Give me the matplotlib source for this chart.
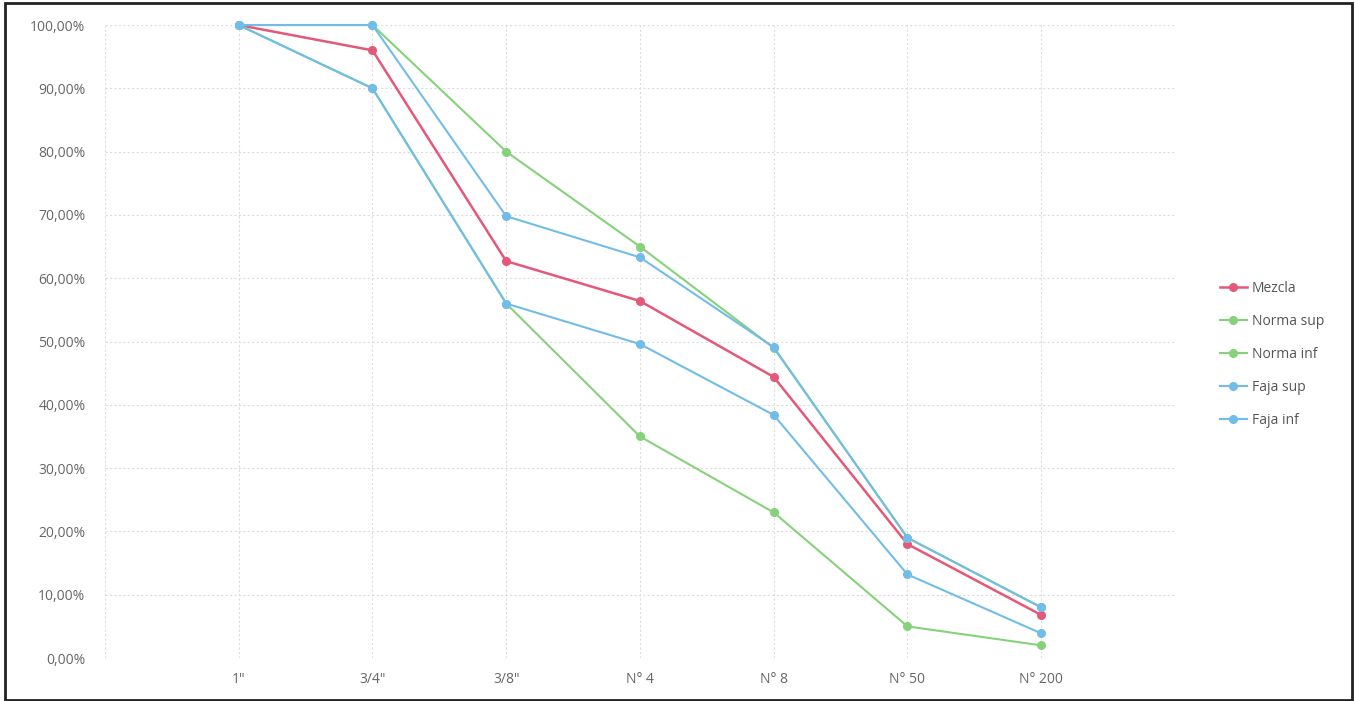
import matplotlib
matplotlib.use("Agg")
import matplotlib.pyplot as plt
from matplotlib.patches import Rectangle
from matplotlib.ticker import FuncFormatter

categories = ['1"', '3/4"', '3/8"', 'N° 4', 'N° 8', 'N° 50', 'N° 200']
mezcla = [100.0, 96.0, 62.7, 56.4, 44.4, 18.0, 6.8]
norma_sup = [100.0, 100.0, 80.0, 65.0, 49.0, 19.0, 8.0]
norma_inf = [100.0, 90.0, 56.0, 35.0, 23.0, 5.0, 2.0]
faja_sup = [100.0, 100.0, 69.8, 63.3, 49.1, 19.0, 8.0]
faja_inf = [100.0, 90.0, 56.0, 49.6, 38.4, 13.2, 3.9]

series = [
    ("Mezcla", mezcla, "#e4587a"),
    ("Norma sup", norma_sup, "#86d27a"),
    ("Norma inf", norma_inf, "#86d27a"),
    ("Faja sup", faja_sup, "#72bde8"),
    ("Faja inf", faja_inf, "#72bde8"),
]

plt.rcParams['font.family'] = ['Open Sans', 'DejaVu Sans']

fig = plt.figure(figsize=(13.56, 7.01), dpi=100)
ax = fig.add_axes([0.0774, 0.0613, 0.7891, 0.9030])

x = list(range(len(categories)))
for name, vals, col in series:
    ax.plot(x, vals, color=col, lw=1.8 if name == "Mezcla" else 1.5,
            marker='o', ms=5.5, label=name, clip_on=False, zorder=3)

ax.set_xlim(-1, len(categories))
ax.set_ylim(0, 100)
ax.set_xticks(x)
ax.set_xticklabels(categories)
ax.set_yticks(range(0, 101, 10))
ax.yaxis.set_major_formatter(FuncFormatter(lambda v, p: f"{v:.2f}%".replace('.', ',')))

ax.set_xticks([-1, len(categories)], minor=True)
ax.grid(True, which='both', color='#dcdcdc', lw=0.8, ls=(0, (2, 2)))
ax.tick_params(axis='both', which='both', length=0, colors='#666666', labelsize=10)
ax.tick_params(axis='y', pad=14)
ax.tick_params(axis='x', pad=10)
for s in ax.spines.values():
    s.set_visible(False)

leg = ax.legend(loc='center left', bbox_to_anchor=(1.03, 0.48), frameon=False,
                fontsize=10, handlelength=2.0, handletextpad=0.3, labelspacing=1.3,
                labelcolor='#555555')

fig.patches.append(Rectangle((0.004, 0.002), 0.993, 0.994, transform=fig.transFigure,
                             fill=False, edgecolor='#222222', lw=2))

fig.savefig("out.png", dpi=100, facecolor='white')
